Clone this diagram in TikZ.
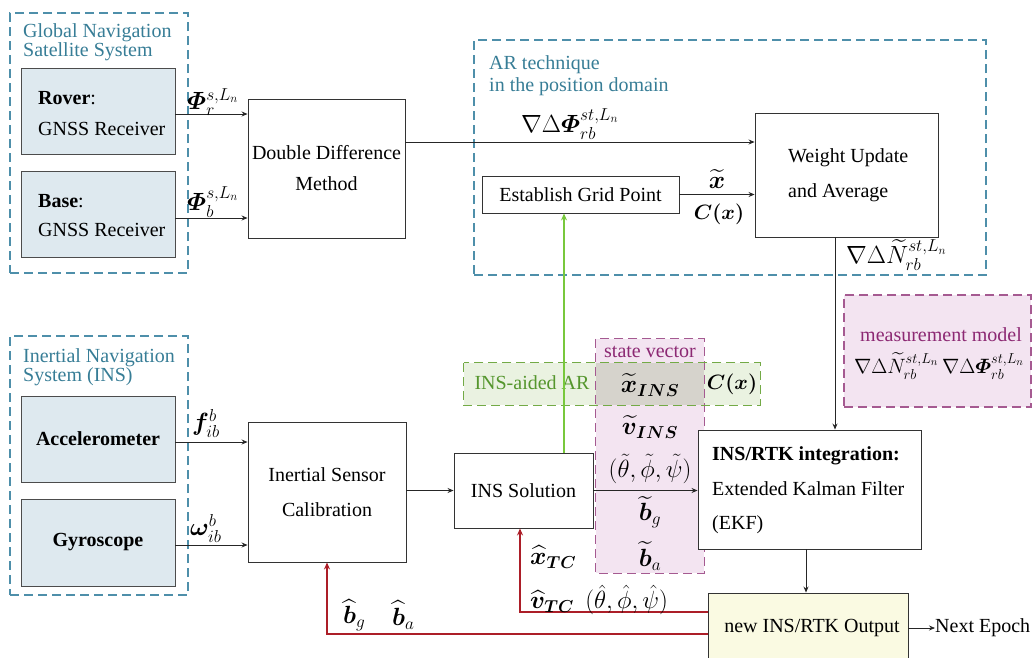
\documentclass[tikz,border=0pt]{standalone}
\usepackage{fontspec}
\setmainfont{Liberation Serif}
\usepackage{amsmath,bm}
\DeclareMathSizes{23}{23}{17}{13}
\DeclareMathSizes{20}{20}{15}{11}
\usetikzlibrary{arrows.meta}
\definecolor{teal1}{RGB}{78,143,170}
\definecolor{tealtxt}{RGB}{55,125,150}
\definecolor{boxblue}{RGB}{222,233,239}
\definecolor{gdash}{RGB}{115,170,70}
\definecolor{gtxt}{RGB}{85,150,45}
\definecolor{gfill}{RGB}{234,242,225}
\definecolor{pdash}{RGB}{165,90,145}
\definecolor{pfill}{RGB}{243,228,241}
\definecolor{ptxt}{RGB}{140,40,115}
\definecolor{ovlgray}{RGB}{214,211,204}
\definecolor{yfill}{RGB}{250,250,226}
\definecolor{fbred}{RGB}{172,30,40}
\definecolor{garrow}{RGB}{120,200,60}
\begin{document}
\begin{tikzpicture}[x=1pt,y=-1pt,
  every node/.style={inner sep=0pt, font=\fontsize{20}{24}\selectfont},
  blk/.style={draw=black!80, line width=0.9pt, fill=white},
  inbox/.style={draw=black!70, line width=0.9pt, fill=boxblue},
  grp/.style={draw=teal1, line width=1.1pt, dash pattern=on 9pt off 5pt},
  gtitle/.style={anchor=west, align=left, text=tealtxt},
  ml/.style={font=\fontsize{23}{23}\selectfont},
  mls/.style={font=\fontsize{20}{20}\selectfont},
  arr/.style={-{Stealth[length=6pt,width=5pt]}, line width=0.8pt, draw=black!85},
  redarr/.style={-{Stealth[length=7pt,width=6pt]}, line width=1.4pt, draw=fbred},
  garr/.style={-{Stealth[length=7pt,width=6pt]}, line width=1.1pt, draw=garrow},
  pborder/.style={draw=pdash, line width=1.1pt, dash pattern=on 9pt off 5pt},
  gborder/.style={draw=gdash, line width=1.1pt, dash pattern=on 9pt off 5pt}
]
\useasboundingbox (0,0) rectangle (1033,657);
\clip (0,0) rectangle (1033,657);

% group boxes
\node[grp, minimum width=178pt, minimum height=260pt] (gnss) at (99,143) {};
\node[grp, minimum width=512pt, minimum height=235pt] (ar) at (730,157.5) {};
\node[grp, minimum width=178pt, minimum height=259pt] (ins) at (99,465.5) {};
\node[gtitle, font=\fontsize{20}{18}\selectfont] (gnsst) at (23,42) {Global Navigation\\Satellite System};
\node[gtitle, font=\fontsize{20}{22}\selectfont] (art) at (489,76) {AR technique\\in the position domain};
\node[gtitle, font=\fontsize{20}{19}\selectfont] (inst) at (23,367.5) {Inertial Navigation\\System (INS)};

% state vector and INS-aided AR
\node[fill=gfill, minimum width=296pt, minimum height=42pt] (aid) at (612,384) {};
\node[fill=pfill, minimum width=108pt, minimum height=234pt] (sv) at (650,456) {};
\node[fill=ovlgray, minimum width=108pt, minimum height=42pt] (ovl) at (650,384) {};
\draw[pborder] (sv.north west) rectangle (sv.south east);
\draw[gborder] (aid.north west) rectangle (aid.south east);
\node[text=ptxt] (svt) at (650,352) {state vector};
\node[text=gtxt] (aidt) at (532,383) {INS-aided AR};

% measurement model
\node[fill=pfill, pborder, minimum width=187pt, minimum height=112pt] (mm) at (937.5,351) {};
\node[text=ptxt] (mmt) at (941,335) {measurement model};

% blocks
\node[inbox, minimum width=154pt, minimum height=86pt] (rover) at (98,111) {};
\node[inbox, minimum width=154pt, minimum height=86pt] (base) at (98,214) {};
\node[anchor=west, align=left, font=\fontsize{20}{31}\selectfont] (rovert) at (38,114) {\textbf{Rover}:\\GNSS Receiver};
\node[anchor=west, align=left, font=\fontsize{20}{29}\selectfont] (baset) at (38,216) {\textbf{Base}:\\GNSS Receiver};
\node[blk, minimum width=157pt, minimum height=139pt, align=center, font=\fontsize{20}{31}\selectfont] (dd) at (326.5,168.5) {Double Difference\\Method};
\node[blk, minimum width=197pt, minimum height=37pt] (egp) at (580.5,194.5) {Establish Grid Point};
\node[blk, minimum width=183pt, minimum height=124pt] (wu) at (846.5,175) {};
\node[anchor=west, align=left, font=\fontsize{20}{35}\selectfont] (wut) at (788,175.5) {Weight Update\\and Average};

\node[inbox, minimum width=154pt, minimum height=86pt] (acc) at (98,439) {\textbf{Accelerometer}};
\node[inbox, minimum width=154pt, minimum height=87pt] (gyro) at (98,542.5) {\textbf{Gyroscope}};
\node[blk, minimum width=158pt, minimum height=140pt, align=center, font=\fontsize{20}{35}\selectfont] (isc) at (327,492) {Inertial Sensor\\Calibration};
\node[blk, minimum width=139pt, minimum height=75pt] (inssol) at (523.5,490.5) {INS Solution};
\node[blk, minimum width=223pt, minimum height=119pt] (insrtk) at (809.5,489.5) {};
\node[anchor=west, align=left, font=\fontsize{20}{34.5}\selectfont] (insrtkt) at (712,490.5) {\textbf{INS/RTK integration:}\\Extended Kalman Filter\\(EKF)};
\node[draw=black!80, line width=0.9pt, fill=yfill, minimum width=200pt, minimum height=67pt] (output) at (808,626.5) {};
\node (outt) at (812,628) {new INS/RTK Output};
\node[anchor=west] (next) at (935,628) {Next Epoch};

% connectors
\draw[arr] ([yshift=-3pt]rover.east) -- ([yshift=-3pt]rover.east -| dd.west);
\draw[arr] ([yshift=-4pt]base.east) -- ([yshift=-4pt]base.east -| dd.west);
\draw[arr] ([yshift=-3pt]acc.east) -- ([yshift=-3pt]acc.east -| isc.west);
\draw[arr] ([yshift=-2.5pt]gyro.east) -- ([yshift=-2.5pt]gyro.east -| isc.west);
\draw[arr] ([yshift=26.5pt]dd.east) -- ([yshift=26.5pt]dd.east -| wu.west);
\draw[arr] (egp.east) -- (egp.east -| wu.west);
\draw[arr] ([xshift=-11.5pt]wu.south) -- ([xshift=-11.5pt]wu.south |- insrtk.north);
\draw[arr] ([xshift=-3.5pt]insrtk.south) -- ([xshift=-3.5pt]insrtk.south |- output.north);
\draw[arr] (next.west -| output.east) -- (next.west);
\draw[arr] (inssol.west -| isc.east) -- (inssol.west);
\draw[arr] (inssol.east) -- (inssol.east -| insrtk.west);
\draw[garr] ([xshift=40.5pt]inssol.north) -- ([xshift=40.5pt]inssol.north |- egp.south);
\draw[redarr] ([yshift=14.5pt]output.west) -| ([xshift=-3.5pt]inssol.south);
\draw[redarr] ([yshift=-7.5pt]output.west) -| (isc.south);

% labels
\node[ml, anchor=west] (lr) at (187,102) {$\boldsymbol{\varPhi}_r^{s,L_n}$};
\node[ml, anchor=west] (lb) at (187,202) {$\boldsymbol{\varPhi}_b^{s,L_n}$};
\node[ml, anchor=west] (ldd) at (521,124) {$\nabla\Delta\boldsymbol{\varPhi}_{rb}^{st,L_n}$};
\node[ml] (lxt) at (717,179) {$\widetilde{\boldsymbol{x}}$};
\node[mls] (lcx) at (719,214) {$\boldsymbol{C(x)}$};
\node[ml, anchor=west] (lnt) at (846,255) {$\nabla\Delta\widetilde{N}_{rb}^{st,L_n}$};
\node[mls] (lmm) at (939,366) {$\nabla\Delta\widetilde{N}_{rb}^{st,L_n}\,\nabla\Delta\boldsymbol{\varPhi}_{rb}^{st,L_n}$};
\node[ml, anchor=west] (lf) at (192,423) {$\boldsymbol{f}_{ib}^{b}$};
\node[ml, anchor=west] (lw) at (190,528) {$\boldsymbol{\omega}_{ib}^{b}$};
\node[ml, anchor=west] (lbg) at (343,615) {$\widehat{\boldsymbol{b}}_g$};
\node[ml, anchor=west] (lba) at (392,615) {$\widehat{\boldsymbol{b}}_a$};
\node[ml, anchor=west] (lxtc) at (530,557) {$\widehat{\boldsymbol{x}}_{\boldsymbol{TC}}$};
\node[ml, anchor=west] (lvtc) at (530,600) {$\widehat{\boldsymbol{v}}_{\boldsymbol{TC}}\ \ (\hat\theta,\hat\phi,\hat\psi)$};
\node[ml] (sx) at (650,385) {$\widetilde{\boldsymbol{x}}_{\boldsymbol{INS}}$};
\node[ml] (sv1) at (650,427) {$\widetilde{\boldsymbol{v}}_{\boldsymbol{INS}}$};
\node[ml] (sa) at (650,469) {$(\tilde\theta,\tilde\phi,\tilde\psi)$};
\node[ml] (sbg) at (650,512) {$\widetilde{\boldsymbol{b}}_g$};
\node[ml] (sba) at (650,556) {$\widetilde{\boldsymbol{b}}_a$};
\node[mls] (scx) at (732,384) {$\boldsymbol{C(x)}$};
\end{tikzpicture}
\end{document}
